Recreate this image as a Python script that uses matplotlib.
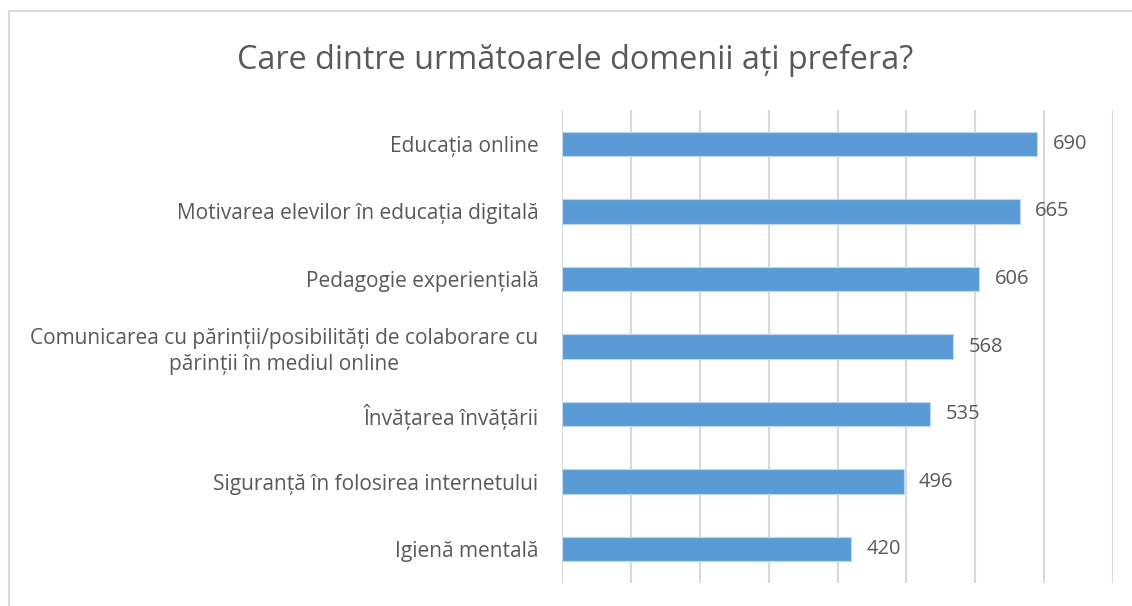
import matplotlib.pyplot as plt
from matplotlib.patches import Rectangle

categorii = [
    "Educația online",
    "Motivarea elevilor în educația digitală",
    "Pedagogie experiențială",
    "Comunicarea cu părinții/posibilități de colaborare cu\npărinții în mediul online",
    "Învățarea învățării",
    "Siguranță în folosirea internetului",
    "Igienă mentală",
]
valori = [690, 665, 606, 568, 535, 496, 420]
titlu = "Care dintre următoarele domenii ați prefera?"

text_color = "#595959"
plt.rcParams['font.family'] = ['Open Sans', 'DejaVu Sans']

fig = plt.figure(figsize=(11.32, 6.06), dpi=100)
# rama graficului (marginea din dreapta si de jos ies din imagine)
fig.patches.append(Rectangle((9 / 1132, -0.1), 1.2, (606 - 11) / 606 + 0.1,
                             transform=fig.transFigure, fill=False,
                             edgecolor="#D9D9D9", linewidth=1.5))

ax = fig.add_axes([562 / 1132, 23 / 606, 551 / 1132, 473 / 606])
y = list(range(len(categorii)))
ax.barh(y, valori, height=0.36, color="#5B9BD5", edgecolor="#BDD7EE",
        linewidth=0.8, zorder=3)
ax.set_ylim(len(categorii) - 0.5, -0.5)
ax.set_xlim(0, 800)
ax.set_xticks(range(0, 801, 100))
ax.set_xticklabels([])
ax.tick_params(axis='x', length=0)
ax.tick_params(axis='y', length=0, pad=17)
ax.set_yticks(y)
ax.set_yticklabels(categorii, fontsize=15, color=text_color,
                   multialignment='center', linespacing=1.3)
ax.grid(axis='x', color="#D9D9D9", linewidth=1.5, zorder=0)
for s in ax.spines.values():
    s.set_visible(False)

for yi, v in zip(y, valori):
    ax.text(v + 22, yi, str(v), va='center', ha='left', fontsize=14.5,
            color=text_color)

fig.text(575 / 1132, 1 - 60 / 606, titlu, ha='center', va='center',
         fontsize=23.3, color=text_color)

fig.savefig("out.png", dpi=100)
